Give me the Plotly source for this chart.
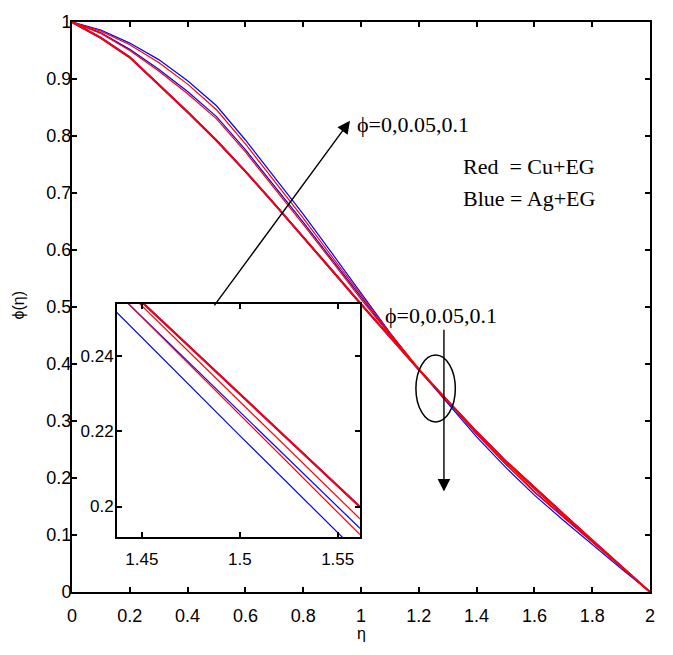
import plotly.graph_objects as go

# ---- data ----
eta = [0.0, 0.1, 0.2, 0.3, 0.4, 0.5, 0.6, 0.7, 0.8, 0.9, 1.0,
       1.1, 1.2, 1.3, 1.4, 1.5, 1.6, 1.7, 1.8, 1.9, 2.0]

phi_base = [1.000, 0.972, 0.938, 0.890, 0.842, 0.792, 0.738, 0.681, 0.623, 0.564, 0.505,
            0.447, 0.390, 0.335, 0.281, 0.230, 0.183, 0.137, 0.091, 0.046, 0.000]
cu_005 = [1.000, 0.980, 0.950, 0.914, 0.874, 0.830, 0.772, 0.709, 0.645, 0.580, 0.514,
          0.451, 0.391, 0.335, 0.280, 0.228, 0.180, 0.134, 0.089, 0.045, 0.000]
cu_010 = [1.000, 0.984, 0.960, 0.929, 0.891, 0.846, 0.786, 0.722, 0.656, 0.588, 0.520,
          0.454, 0.392, 0.334, 0.277, 0.2245, 0.175, 0.131, 0.087, 0.043, 0.000]
ag_005 = [1.000, 0.981, 0.952, 0.917, 0.878, 0.834, 0.776, 0.713, 0.649, 0.583, 0.517,
          0.452, 0.391, 0.334, 0.277, 0.2253, 0.176, 0.132, 0.088, 0.044, 0.000]
ag_010 = [1.000, 0.986, 0.963, 0.934, 0.897, 0.853, 0.793, 0.729, 0.663, 0.594, 0.524,
          0.455, 0.390, 0.330, 0.272, 0.219, 0.170, 0.126, 0.083, 0.041, 0.000]

inset_eta = [1.43, 1.50, 1.57]
inset_base = [0.2643, 0.2300, 0.1957]
inset_cu005 = [0.2637, 0.2280, 0.1923]
inset_cu010 = [0.2609, 0.2245, 0.1880]
inset_ag005 = [0.2607, 0.2253, 0.1898]
inset_ag010 = [0.2555, 0.2189, 0.1827]

x_ticks = [0, 0.2, 0.4, 0.6, 0.8, 1, 1.2, 1.4, 1.6, 1.8, 2]
y_ticks = [0, 0.1, 0.2, 0.3, 0.4, 0.5, 0.6, 0.7, 0.8, 0.9, 1]
inset_xticks = [1.45, 1.5, 1.55]
inset_xtext = ["1.45", "1.5", "1.55"]
inset_yticks = [0.2, 0.22, 0.24]
inset_ytext = ["0.2", "0.22", "0.24"]

RED = "#ff0000"
BLUE = "#0000ff"
SANS = "Liberation Sans, Arial, sans-serif"
SERIF = "Liberation Serif, Times New Roman, serif"

fig = go.Figure()

series = [
    (phi_base, inset_base, BLUE, 2.0),
    (ag_010, inset_ag010, BLUE, 1.2),
    (ag_005, inset_ag005, BLUE, 1.2),
    (cu_010, inset_cu010, RED, 1.2),
    (cu_005, inset_cu005, RED, 1.2),
    (phi_base, inset_base, RED, 2.0),
]
for main_vals, inset_vals, col, w in series:
    fig.add_trace(go.Scatter(x=eta, y=main_vals, mode="lines",
                             line=dict(color=col, width=w), showlegend=False,
                             xaxis="x", yaxis="y"))
for main_vals, inset_vals, col, w in series:
    fig.add_trace(go.Scatter(x=inset_eta, y=inset_vals, mode="lines",
                             line=dict(color=col, width=w), showlegend=False,
                             xaxis="x2", yaxis="y2"))

axis_common = dict(showline=True, linewidth=2, linecolor="black", mirror="ticks",
                   ticks="inside", ticklen=5, tickwidth=1.5, tickcolor="black",
                   showgrid=False, zeroline=False)

fig.update_layout(
    width=673, height=655, autosize=False,
    margin=dict(l=72, r=23, t=13, b=63),
    paper_bgcolor="white", plot_bgcolor="white",
    xaxis=dict(domain=[0, 1], range=[0, 2], tickvals=x_ticks,
               tickfont=dict(family=SANS, size=18, color="black"),
               ticklabelstandoff=6, **axis_common),
    yaxis=dict(domain=[0, 1], range=[0, 1], tickvals=y_ticks,
               tickfont=dict(family=SANS, size=18, color="black"),
               ticklabelstandoff=-5, **axis_common),
    xaxis2=dict(domain=[0.0779, 0.498], range=[1.4373, 1.5613], anchor="y2",
                tickvals=inset_xticks, ticktext=inset_xtext,
                tickfont=dict(family=SANS, size=17, color="black"),
                ticklabelstandoff=6, **axis_common),
    yaxis2=dict(domain=[0.0967, 0.506], range=[0.1919, 0.2541], anchor="x2",
                tickvals=inset_yticks, ticktext=inset_ytext,
                tickfont=dict(family=SANS, size=17, color="black"),
                ticklabelstandoff=-2, **axis_common),
)

# arrows
fig.add_annotation(x=0.9619, y=0.8267, ax=0.4889, ay=0.5001, xref="x", yref="y",
                   axref="x", ayref="y", text="", showarrow=True,
                   arrowhead=2, arrowsize=1.8, arrowwidth=1.4, arrowcolor="black")
fig.add_annotation(x=1.287, y=0.1762, ax=1.287, ay=0.4629, xref="x", yref="y",
                   axref="x", ayref="y", text="", showarrow=True,
                   arrowhead=2, arrowsize=1.8, arrowwidth=1.4, arrowcolor="black")

# text labels
fig.add_annotation(x=0.979, y=0.820, xref="x", yref="y", text="ϕ=0,0.05,0.1",
                   showarrow=False, xanchor="left", yanchor="middle",
                   font=dict(family=SERIF, size=22, color="black"))
fig.add_annotation(x=1.277, y=0.4853, xref="x", yref="y", text="ϕ=0,0.05,0.1",
                   showarrow=False, xanchor="center", yanchor="middle",
                   font=dict(family=SERIF, size=22, color="black"))
fig.add_annotation(x=1.345, y=0.746, xref="x", yref="y", text="Red\u00a0\u00a0= Cu+EG",
                   showarrow=False, xanchor="left", yanchor="middle",
                   font=dict(family=SERIF, size=22, color="black"))
fig.add_annotation(x=1.345, y=0.691, xref="x", yref="y", text="Blue = Ag+EG",
                   showarrow=False, xanchor="left", yanchor="middle",
                   font=dict(family=SERIF, size=22, color="black"))

# axis titles
fig.add_annotation(x=-0.092, y=0.504, xref="paper", yref="paper", text="ϕ(η)",
                   showarrow=False, textangle=-90, xanchor="center", yanchor="middle",
                   font=dict(family=SANS, size=16, color="black"))
fig.add_annotation(x=0.5, y=-0.0735, xref="paper", yref="paper", text="η",
                   showarrow=False, xanchor="center", yanchor="middle",
                   font=dict(family=SANS, size=16, color="black"))

# ellipse
fig.add_shape(type="circle", xref="x", yref="y", x0=1.190, x1=1.3264, y0=0.2983, y1=0.4157,
              line=dict(color="black", width=1.5))

fig.write_html("out.html")
